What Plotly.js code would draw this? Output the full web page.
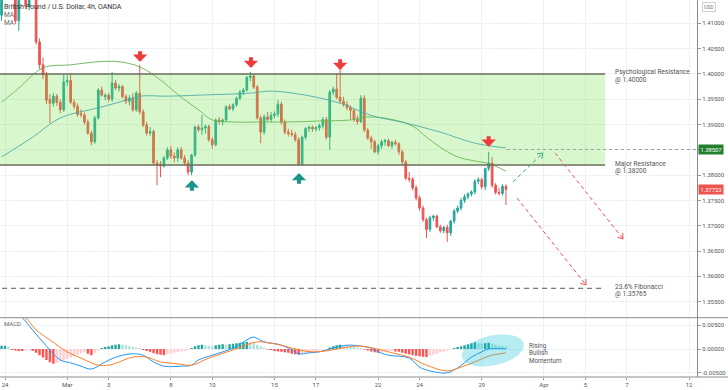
<!DOCTYPE html>
<html><head><meta charset="utf-8">
<script src="https://cdn.plot.ly/plotly-3.0.1.min.js"></script>
<style>html,body{margin:0;padding:0;background:#fff;overflow:hidden}#chart{width:728px;height:390px}</style>
</head><body><div id="chart"></div>
<script>
// ---------- DATA (GBP/USD 4h, candle index 0 = 24 Feb) ----------
const firstCandle = -1;
const open = [1.4116,1.4160,1.4195,1.4215,1.4180,1.4105,1.4170,1.4200,1.4133,1.4165,1.4158,1.4063,1.4018,1.3998,1.3950,1.3942,1.3956,1.3944,1.3929,1.3984,1.3987,1.3944,1.3936,1.3922,1.3919,1.3905,1.3883,1.3866,1.3913,1.3968,1.3955,1.3958,1.3950,1.3982,1.3972,1.3975,1.3955,1.3946,1.3952,1.3929,1.3962,1.3925,1.3899,1.3883,1.3886,1.3824,1.3822,1.3818,1.3834,1.3850,1.3838,1.3834,1.3850,1.3834,1.3824,1.3806,1.3840,1.3895,1.3890,1.3893,1.3896,1.3870,1.3860,1.3909,1.3906,1.3909,1.3935,1.3931,1.3939,1.3952,1.3964,1.3968,1.3993,1.3996,1.3974,1.3913,1.3885,1.3915,1.3910,1.3918,1.3921,1.3940,1.3905,1.3885,1.3882,1.3880,1.3870,1.3822,1.3875,1.3892,1.3895,1.3891,1.3894,1.3898,1.3910,1.3875,1.3964,1.3970,1.3954,1.3946,1.3940,1.3933,1.3928,1.3910,1.3906,1.3952,1.3889,1.3873,1.3866,1.3846,1.3858,1.3866,1.3868,1.3858,1.3865,1.3862,1.3846,1.3826,1.3794,1.3792,1.3775,1.3755,1.3735,1.3712,1.3693,1.3716,1.3719,1.3698,1.3690,1.3697,1.3686,1.3709,1.3729,1.3735,1.3750,1.3757,1.3763,1.3767,1.3788,1.3791,1.3777,1.3813,1.3824,1.3780,1.3766,1.3764,1.3778];
const high = [1.4172,1.4205,1.4230,1.4225,1.4188,1.4180,1.4215,1.4210,1.4175,1.4182,1.4168,1.4070,1.4032,1.4004,1.3960,1.3962,1.3960,1.3950,1.3998,1.3997,1.4000,1.3950,1.3942,1.3930,1.3924,1.3910,1.3888,1.3917,1.3972,1.3975,1.3962,1.3962,1.4004,1.3988,1.3980,1.3978,1.3960,1.3958,1.3962,1.3966,1.4018,1.3930,1.3905,1.3895,1.3890,1.3830,1.3828,1.3838,1.3855,1.3858,1.3845,1.3855,1.3856,1.3840,1.3830,1.3842,1.3898,1.3900,1.3919,1.3900,1.3900,1.3875,1.3912,1.3915,1.3912,1.3938,1.3940,1.3942,1.3955,1.3968,1.3972,1.3996,1.4004,1.4000,1.3978,1.3918,1.3920,1.3925,1.3925,1.3926,1.3948,1.3945,1.3910,1.3892,1.3890,1.3886,1.3875,1.3878,1.3895,1.3898,1.3898,1.3897,1.3902,1.3915,1.3915,1.3968,1.3975,1.4000,1.4018,1.3955,1.3946,1.3938,1.3932,1.3918,1.3958,1.3958,1.3893,1.3878,1.3870,1.3862,1.3870,1.3872,1.3872,1.3868,1.3870,1.3865,1.3850,1.3830,1.3806,1.3796,1.3780,1.3760,1.3740,1.3716,1.3720,1.3722,1.3722,1.3702,1.3700,1.3702,1.3712,1.3733,1.3740,1.3755,1.3762,1.3766,1.3770,1.3792,1.3796,1.3795,1.3815,1.3846,1.3836,1.3784,1.3775,1.3782,1.3782];
const low = [1.4105,1.4150,1.4180,1.4170,1.4098,1.4085,1.4160,1.4128,1.4126,1.4150,1.4058,1.4010,1.3990,1.3940,1.3903,1.3935,1.3937,1.3922,1.3925,1.3976,1.3940,1.3930,1.3915,1.3914,1.3900,1.3880,1.3859,1.3862,1.3910,1.3955,1.3948,1.3945,1.3945,1.3968,1.3965,1.3952,1.3940,1.3938,1.3925,1.3925,1.3920,1.3895,1.3878,1.3878,1.3820,1.3780,1.3796,1.3815,1.3830,1.3832,1.3825,1.3826,1.3830,1.3818,1.3800,1.3800,1.3836,1.3885,1.3880,1.3882,1.3866,1.3852,1.3857,1.3900,1.3898,1.3905,1.3928,1.3926,1.3935,1.3948,1.3958,1.3965,1.3985,1.3970,1.3910,1.3863,1.3880,1.3906,1.3905,1.3912,1.3915,1.3900,1.3880,1.3876,1.3876,1.3866,1.3818,1.3818,1.3870,1.3885,1.3886,1.3886,1.3888,1.3892,1.3870,1.3850,1.3958,1.3950,1.3942,1.3935,1.3928,1.3910,1.3905,1.3900,1.3903,1.3885,1.3870,1.3852,1.3843,1.3840,1.3852,1.3858,1.3855,1.3852,1.3858,1.3840,1.3820,1.3790,1.3786,1.3770,1.3750,1.3730,1.3708,1.3676,1.3688,1.3710,1.3695,1.3686,1.3685,1.3668,1.3680,1.3704,1.3725,1.3730,1.3745,1.3752,1.3758,1.3762,1.3782,1.3772,1.3770,1.3808,1.3775,1.3762,1.3760,1.3760,1.3741];
const close = [1.4160,1.4195,1.4215,1.4180,1.4105,1.4170,1.4200,1.4133,1.4165,1.4158,1.4063,1.4018,1.3998,1.3948,1.3942,1.3956,1.3944,1.3929,1.3984,1.3987,1.3944,1.3936,1.3920,1.3919,1.3905,1.3883,1.3866,1.3913,1.3968,1.3958,1.3958,1.3950,1.3982,1.3972,1.3975,1.3955,1.3946,1.3952,1.3929,1.3962,1.3925,1.3899,1.3883,1.3886,1.3824,1.3820,1.3818,1.3834,1.3850,1.3838,1.3834,1.3850,1.3834,1.3824,1.3806,1.3840,1.3895,1.3890,1.3893,1.3896,1.3870,1.3860,1.3909,1.3906,1.3909,1.3935,1.3931,1.3939,1.3952,1.3964,1.3968,1.3993,1.3996,1.3974,1.3913,1.3885,1.3915,1.3910,1.3918,1.3921,1.3940,1.3905,1.3885,1.3882,1.3880,1.3870,1.3822,1.3875,1.3892,1.3895,1.3891,1.3894,1.3898,1.3910,1.3875,1.3964,1.3970,1.3954,1.3946,1.3940,1.3933,1.3928,1.3910,1.3906,1.3952,1.3889,1.3873,1.3866,1.3846,1.3858,1.3866,1.3868,1.3858,1.3865,1.3862,1.3846,1.3826,1.3794,1.3792,1.3775,1.3755,1.3735,1.3712,1.3693,1.3716,1.3719,1.3698,1.3690,1.3697,1.3686,1.3709,1.3729,1.3735,1.3750,1.3757,1.3763,1.3767,1.3788,1.3791,1.3777,1.3813,1.3824,1.3780,1.3766,1.3764,1.3778,1.3772];

const maFastIdx = [-1,4,11,19,27,33,39,45,51,56,60,66,74,82,91,100,105,112,118,122,126,131,136,140,145];
const maFast    = [1.3944,1.3972,1.4012,1.4018,1.4024,1.4024,1.4014,1.3988,1.3954,1.3929,1.3909,1.3905,1.3905,1.3905,1.3907,1.3909,1.3915,1.3910,1.3897,1.3875,1.3855,1.3836,1.3828,1.3823,1.3808];
const maSlowIdx = [-1,8,16,27,35,39,47,56,71,77,87,97,106,116,126,135,140,145];
const maSlow    = [1.3836,1.3875,1.3913,1.3933,1.3948,1.3956,1.3956,1.3958,1.3962,1.3966,1.3958,1.3942,1.3918,1.3903,1.3885,1.3865,1.3858,1.3854];

// MACD histogram (one per candle)
const macdHist = [0.0007,0.0007,0.0005,-0.0002,-0.0003,-0.0004,-0.0004,-0.0003,-0.0002,-0.0004,-0.0008,-0.0013,-0.0018,-0.0023,-0.0028,-0.0031,-0.0029,-0.0027,-0.0024,-0.0021,-0.0018,-0.0015,-0.0012,-0.0009,-0.0007,-0.0010,-0.0013,-0.0008,-0.0003,0.0002,0.0004,0.0006,0.0008,0.0009,0.0010,0.0009,0.0008,0.0006,0.0004,0.0003,0.0002,-0.0002,-0.0004,-0.0006,-0.0009,-0.0011,-0.0012,-0.0013,-0.0011,-0.0010,-0.0008,-0.0007,-0.0005,-0.0004,-0.0002,0.0002,0.0006,0.0008,0.0009,0.0008,0.0007,0.0006,0.0008,0.0009,0.0010,0.0009,0.0010,0.0011,0.0012,0.0013,0.0014,0.0015,0.0014,0.0012,0.0009,0.0006,0.0003,-0.0001,-0.0002,-0.0004,-0.0005,-0.0006,-0.0007,-0.0008,-0.0010,-0.0011,-0.0012,-0.0010,-0.0008,-0.0007,-0.0006,-0.0005,-0.0003,-0.0002,-0.0001,0.0003,0.0006,0.0008,0.0009,0.0008,0.0007,0.0006,0.0004,0.0003,0.0002,-0.0001,-0.0003,-0.0005,-0.0007,-0.0008,-0.0007,-0.0006,-0.0005,-0.0004,-0.0005,-0.0006,-0.0008,-0.0010,-0.0011,-0.0013,-0.0014,-0.0015,-0.0016,-0.0017,-0.0014,-0.0012,-0.0010,-0.0007,-0.0005,-0.0003,-0.0001,0.0002,0.0004,0.0006,0.0008,0.0010,0.0012,0.0014,0.0012,0.0011,0.0012,0.0013,0.0011,0.0009,0.0007,0.0006,0.0005];
const macdIdx  = [-1,3,5,8,12,16,19,22,25,29,33,37,40,43,46,51,54,56,60,66,71,72,75,79,82,85,88,91,95,99,103,106,108,111,117,120,122,126,128,130,133,135,138,140,145];
const macdLine = [0.0090,0.0082,0.0066,0.0040,0.0006,-0.0023,-0.0029,-0.0036,-0.0042,-0.0027,-0.0015,-0.0010,-0.0013,-0.0027,-0.0036,-0.0036,-0.0034,-0.0023,-0.0013,0.0002,0.0023,0.0025,0.0015,0.0010,0.0002,-0.0010,-0.0008,-0.0006,0.0002,0.0008,0.0006,0.0002,-0.0006,-0.0013,-0.0019,-0.0038,-0.0044,-0.0050,-0.0050,-0.0044,-0.0029,-0.0017,-0.0006,0.0000,0.0000];
const sigIdx   = [-1,3,6,9,13,18,22,27,30,32,37,41,45,50,54,59,66,73,76,80,85,89,93,99,103,109,112,117,122,128,132,136,140,145];
const sigLine  = [0.0080,0.0078,0.0065,0.0040,0.0019,-0.0006,-0.0019,-0.0034,-0.0034,-0.0030,-0.0017,-0.0017,-0.0027,-0.0031,-0.0034,-0.0019,-0.0002,0.0015,0.0013,0.0008,-0.0002,-0.0006,-0.0004,0.0004,0.0006,-0.0002,-0.0008,-0.0017,-0.0034,-0.0046,-0.0038,-0.0027,-0.0015,-0.0008];

// x tick labels (trading-day starts)
const dayTickIdx  = [0,18,30,48,60,78,90,108,120,138,156,168,180,198];
const dayTickText = ['24','Mar','3','8','10','15','17','22','24','29','Apr','5','7','12'];

// price axis ticks (1.38500 hidden behind the 1.38507 marker)
const priceTicks     = [1.355,1.36,1.365,1.37,1.375,1.38,1.385,1.39,1.395,1.40,1.405,1.41];
const priceTickText  = ['1.35500','1.36000','1.36500','1.37000','1.37500','1.38000','','1.39000','1.39500','1.40000','1.40500','1.41000'];

// key levels
const resistTop = 1.40000, resistMajor = 1.38200, targetLevel = 1.38507, fibLevel = 1.35765, lastPrice = 1.37723;

// ---------- LAYOUT GEOMETRY ----------
const W = 728, H = 390, M = {l:0, r:31, t:0, b:13};
const plotW = W - M.l - M.r, plotH = H - M.t - M.b;
const splitPx = 317.7;
const split = (plotH - splitPx) / plotH;
const xMin = -1.447, xMax = 200.3;
const yMin = 1.35184, yMax = 1.41460;
const y2Min = -0.00587, y2Max = 0.00656;
const pxX = plotW / (xMax - xMin);
const pxY = plotH * (1 - split) / (yMax - yMin);
const pxY2 = plotH * split / (y2Max - y2Min);
const PX = x => x / plotW;
const PY = y => (plotH - y) / plotH;

const idx = close.map((_, k) => firstCandle + k);
const histColor = macdHist.map((v, k) => {
  const prev = k ? macdHist[k-1] : v;
  if (v >= 0) return v >= prev ? '#26a69a' : '#b2dfdb';
  return v <= prev ? '#ff5252' : '#ffcdd2';
});

const UP = '#26a69a', DN = '#ef5350', FONT = 'Roboto, "Open Sans", sans-serif';

const traces = [
  {type:'candlestick', x:idx, open:open, high:high, low:low, close:close, xaxis:'x', yaxis:'y',
   increasing:{line:{color:UP,width:1}, fillcolor:UP}, decreasing:{line:{color:DN,width:1}, fillcolor:DN},
   whiskerwidth:0, hoverinfo:'skip', showlegend:false},
  {type:'scatter', mode:'lines', x:maFastIdx, y:maFast, xaxis:'x', yaxis:'y',
   line:{color:'rgba(96,170,80,0.85)', width:1, shape:'spline', smoothing:1}, hoverinfo:'skip', showlegend:false},
  {type:'scatter', mode:'lines', x:maSlowIdx, y:maSlow, xaxis:'x', yaxis:'y',
   line:{color:'rgba(60,150,200,0.85)', width:1, shape:'spline', smoothing:1}, hoverinfo:'skip', showlegend:false},
  {type:'bar', x:idx, y:macdHist, xaxis:'x', yaxis:'y2', marker:{color:histColor, line:{width:0}}, hoverinfo:'skip', showlegend:false},
  {type:'scatter', mode:'lines', x:macdIdx, y:macdLine, xaxis:'x', yaxis:'y2',
   line:{color:'#2196f3', width:1, shape:'spline', smoothing:1}, hoverinfo:'skip', showlegend:false},
  {type:'scatter', mode:'lines', x:sigIdx, y:sigLine, xaxis:'x', yaxis:'y2',
   line:{color:'#ff7f2a', width:1, shape:'spline', smoothing:1}, hoverinfo:'skip', showlegend:false}
];

// helpers for decorations
function vHead(x0, y0, x1, y1, color) {
  const dx = (x1 - x0) * pxX, dy = -(y1 - y0) * pxY;
  const len = Math.hypot(dx, dy), ux = dx/len, uy = dy/len;
  const L = 6, a = 35 * Math.PI / 180, out = [];
  [a, -a].forEach(t => {
    const rx = ux*Math.cos(t) - uy*Math.sin(t), ry = ux*Math.sin(t) + uy*Math.cos(t);
    out.push({type:'line', xref:'x', yref:'y', x0:x1 - L*rx/pxX, y0:y1 + L*ry/pxY, x1:x1, y1:y1,
      line:{color:color, width:1}, layer:'above'});
  });
  return out;
}
function ellipsePath(cx, cy, aPx, bPx, angDeg) {
  const th = angDeg * Math.PI / 180; let d = '';
  for (let k = 0; k <= 60; k++) {
    const t = 2 * Math.PI * k / 60;
    const ex = aPx*Math.cos(t), ey = bPx*Math.sin(t);
    const rx = ex*Math.cos(th) - ey*Math.sin(th), ry = ex*Math.sin(th) + ey*Math.cos(th);
    d += (k ? 'L' : 'M') + (cx + rx/pxX).toFixed(3) + ',' + (cy - ry/pxY2).toFixed(6);
  }
  return d + 'Z';
}

const boxEnd = 173.7;
const arrowsDashed = [
  {x0:147.0, y0:1.37865, x1:155.7, y1:1.38438, c:'#3aa68a'},
  {x0:159.2, y0:1.38440, x1:178.9, y1:1.36739, c:'#ef5350'},
  {x0:148.2, y0:1.37549, x1:168.2, y1:1.35830, c:'#ef5350'}
];

const shapes = [
  {type:'rect', xref:'x', yref:'y', x0:xMin-2, x1:boxEnd, y0:resistMajor, y1:resistTop,
   fillcolor:'rgba(110,225,60,0.26)', line:{width:0}, layer:'above'},
  {type:'line', xref:'x', yref:'y', x0:xMin-2, x1:boxEnd, y0:resistTop, y1:resistTop, line:{color:'#6b6b5c', width:1.5}, layer:'above'},
  {type:'line', xref:'x', yref:'y', x0:xMin-2, x1:boxEnd, y0:resistMajor, y1:resistMajor, line:{color:'#6b6b5c', width:1.5}, layer:'above'},
  {type:'line', xref:'x', yref:'y', x0:xMin-2, x1:boxEnd, y0:fibLevel, y1:fibLevel, line:{color:'#555', width:1, dash:'5px,4px'}, layer:'above'},
  {type:'line', xref:'x', yref:'y', x0:145.3, x1:xMax+2, y0:targetLevel, y1:targetLevel, line:{color:'#a0a0a0', width:1, dash:'3px,3px'}, layer:'above'},
  {type:'path', xref:'x', yref:'y2', path:ellipsePath(141.2, -0.0003, 31.6, 14.9, -12.2),
   fillcolor:'rgba(0,188,212,0.28)', line:{width:0}, layer:'above'},
  {type:'line', xref:'paper', yref:'paper', x0:0, x1:W/plotW, y0:split, y1:split, line:{color:'#8a8a8a', width:1}},
  {type:'line', xref:'paper', yref:'paper', x0:0, x1:W/plotW, y0:0, y1:0, line:{color:'#8a8a8a', width:1}}
];
arrowsDashed.forEach(a => {
  shapes.push({type:'line', xref:'x', yref:'y', x0:a.x0, y0:a.y0, x1:a.x1, y1:a.y1,
    line:{color:a.c, width:1, dash:'4px,3px'}, layer:'above'});
  vHead(a.x0, a.y0, a.x1, a.y1, a.c).forEach(s => shapes.push(s));
});

const txt = (x, y, text, size, color, extra) => Object.assign({xref:'paper', yref:'paper', x:PX(x), y:PY(y),
  text:text, showarrow:false, xanchor:'left', yanchor:'middle', borderpad:0, font:{family:FONT, size:size, color:color}}, extra || {});

const blockArrow = (x, y, dir, color) => ({xref:'x', yref:'y', x:x, y:y, text:'', showarrow:true,
  ax:0, ay:dir === 'down' ? -12 : 12, arrowhead:1, arrowsize:0.6, arrowwidth:4, arrowcolor:color, standoff:0});

const annotations = [
  txt(3, 7, 'British Pound / U.S. Dollar, 4h, OANDA', 7, '#333'),
  txt(3, 15, 'MA', 6.5, '#666'),
  txt(3, 23, 'MA', 6.5, '#666'),
  txt(3, 323, 'MACD', 6, '#666'),
  txt(614, 72, 'Psychological Resistance', 6.6, '#555'),
  txt(614, 79.5, '@ 1.40000', 6.6, '#555'),
  txt(614, 163.5, 'Major Resistance', 6.6, '#555'),
  txt(614, 171, '@ 1.38200', 6.6, '#555'),
  txt(614, 286.5, '23.6% Fibonacci', 6.6, '#555'),
  txt(614, 294, '@ 1.35765', 6.6, '#555'),
  txt(528, 345.5, 'Rising', 6.3, '#555'),
  txt(528, 353, 'Bullish', 6.3, '#555'),
  txt(528, 360.5, 'Momentum', 6.3, '#555'),
  {xref:'paper', yref:'y', x:PX(698), y:targetLevel, text:targetLevel.toFixed(5), showarrow:false, xanchor:'left', yanchor:'middle',
   bgcolor:'#23802f', borderpad:1.5, font:{family:FONT, size:5.8, color:'#fff'}},
  {xref:'paper', yref:'y', x:PX(698), y:lastPrice, text:lastPrice.toFixed(5), showarrow:false, xanchor:'left', yanchor:'middle',
   bgcolor:'#ef5350', borderpad:1.5, font:{family:FONT, size:5.8, color:'#fff'}},
  {xref:'paper', yref:'paper', x:PX(709), y:PY(6.5), text:'USD', showarrow:false, xanchor:'center', yanchor:'middle',
   bordercolor:'#d0d0d0', borderwidth:1, borderpad:1, font:{family:FONT, size:5, color:'#777'}},
  blockArrow(39.1, 1.4024, 'down', '#ef3b3b'),
  blockArrow(71.2, 1.4012, 'down', '#ef3b3b'),
  blockArrow(97.0, 1.4008, 'down', '#ef3b3b'),
  blockArrow(140.0, 1.3856, 'down', '#ef3b3b'),
  blockArrow(54.1, 1.3790, 'up', '#1a9488'),
  blockArrow(85.1, 1.3804, 'up', '#1a9488')
];

const grid = '#eef1f6';
const layout = {
  width:W, height:H, margin:M, paper_bgcolor:'#fff', plot_bgcolor:'#fff', showlegend:false,
  font:{family:FONT, size:6, color:'#555'}, bargap:0.3, dragmode:false,
  xaxis:{range:[xMin, xMax], anchor:'y2', tickvals:dayTickIdx, ticktext:dayTickText, showgrid:true, gridcolor:grid,
    zeroline:false, showline:false, ticks:'outside', ticklen:2, tickcolor:'#999', tickfont:{size:6, color:'#555'},
    rangeslider:{visible:false}, fixedrange:true, automargin:false},
  yaxis:{domain:[split, 1], range:[yMin, yMax], side:'right', anchor:'x',
    tickvals:priceTicks, ticktext:priceTickText,
    showgrid:true, gridcolor:grid, zeroline:false, showline:true, linecolor:'#8a8a8a', linewidth:1,
    ticks:'outside', ticklen:3, tickcolor:'#999', tickfont:{size:6, color:'#555'}, fixedrange:true, automargin:false},
  yaxis2:{domain:[0, split], range:[y2Min, y2Max], side:'right', anchor:'x',
    tickvals:[-0.005, 0, 0.005], ticktext:['-0.00500','0.00000','0.00500'],
    showgrid:true, gridcolor:grid, zeroline:false, showline:true, linecolor:'#8a8a8a', linewidth:1,
    ticks:'outside', ticklen:3, tickcolor:'#999', tickfont:{size:6, color:'#555'}, fixedrange:true, automargin:false},
  shapes:shapes, annotations:annotations
};

Plotly.newPlot('chart', traces, layout, {staticPlot:true, displayModeBar:false});
</script></body></html>
